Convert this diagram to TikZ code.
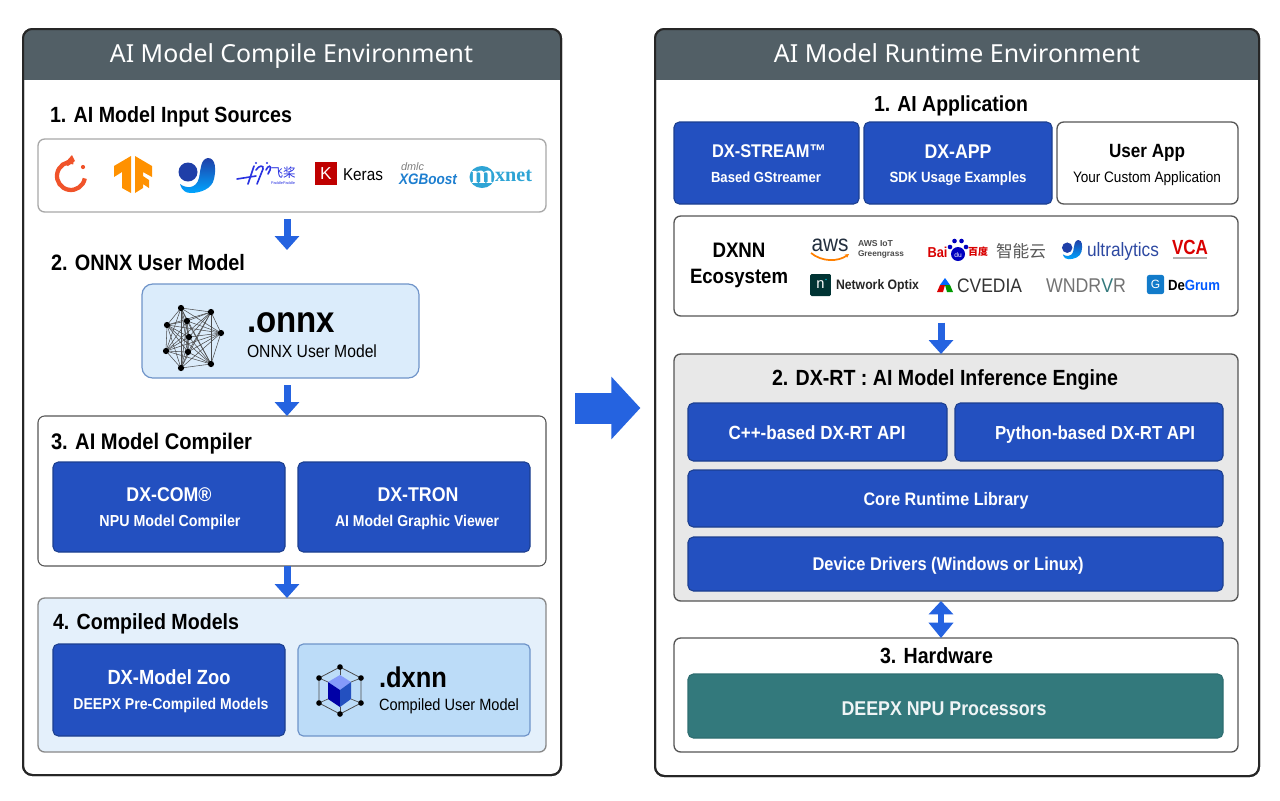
\documentclass[tikz,border=0pt]{standalone}
\usepackage{fontspec}
\setmainfont{Liberation Sans}
\newfontfamily\ttl{Noto Sans}
\newfontfamily\ser{Liberation Serif}
\newfontfamily\cjk{Noto Sans CJK SC}
\usetikzlibrary{fit,arrows.meta}
\definecolor{hdr}{HTML}{525F66}
\definecolor{blu}{HTML}{2350C0}
\definecolor{bludk}{HTML}{1C3F8F}
\definecolor{arr}{HTML}{2563E0}
\definecolor{lt}{HTML}{DBECFB}
\definecolor{ltb}{HTML}{6F94C9}
\definecolor{lt2}{HTML}{BCDCF8}
\definecolor{lt3}{HTML}{E4F0FB}
\definecolor{teal}{HTML}{33797C}
\definecolor{gry}{HTML}{A8A8A8}
\definecolor{gry2}{HTML}{555555}
\definecolor{mxc}{HTML}{2EA4D5}
\definecolor{xgc}{HTML}{1E7FD0}
\definecolor{ppc}{HTML}{2932E1}
\definecolor{awsc}{HTML}{232F3E}
\definecolor{orng}{HTML}{F0532A}
\definecolor{tfc}{HTML}{FF9100}
\definecolor{ulc}{HTML}{1F3FA8}
\newcommand{\ffit}[2]{\resizebox{\dimexpr#1pt*3/4\relax}{!}{\rule{0pt}{7.2pt}\smash{#2}}}
\newcommand{\fit}[2]{\scalebox{1}[1.12]{\ffit{#1}{#2}}}
\newcommand{\ulogo}{%
 \fill[ulc] (0,0) circle (9.5);
 \path[top color=ulc,bottom color=cyan!65!blue]
  (11,6) .. controls (13,-5) and (13,-13) .. (20,-14) .. controls (28,-14) and (28,-2) .. (26,7) .. controls (24,17) and (12,21) .. (3,21) .. controls (-2,21) and (-6,19) .. (-8,12) .. controls (-3,16) and (8,18) .. (11,6) -- cycle;
}
\tikzset{
 x=0.75pt,y=-0.75pt,
 txt/.style={inner sep=0pt,outer sep=0pt,text=black},
 wht/.style={txt,text=white},
 panelbox/.style={draw=black!85,line width=1.5pt,rounded corners=7pt,fill=white,inner sep=0pt,outer sep=0pt},
 box/.style={draw=gry,line width=1pt,rounded corners=5pt,fill=white,inner sep=0pt,outer sep=0pt},
 boxdk/.style={box,draw=gry2,line width=0.8pt},
 blubox/.style={draw=bludk,line width=0.8pt,rounded corners=4pt,fill=blu,inner sep=0pt,outer sep=0pt},
 ltbox/.style={draw=ltb,line width=0.9pt,rounded corners=8pt,fill=lt,inner sep=0pt,outer sep=0pt},
 flow/.style={draw=arr,line width=5.25pt,-{Triangle[width=18pt,length=10.5pt]}},
 flowtwo/.style={draw=arr,line width=4.5pt,{Triangle[width=18pt,length=10pt]}-{Triangle[width=18pt,length=11.5pt]}},
 bigflow/.style={draw=arr,line width=23.25pt,-{Triangle[width=45.75pt,length=21.75pt]}},
 ppline/.style={draw=ppc,line width=1.2pt,line cap=round},
}
\begin{document}
\begin{tikzpicture}
\useasboundingbox (0,0) rectangle (1280,800);
\fill[white] (0,0) rectangle (1280,800);
% left panel
\node[panelbox,fit={(23,29) (561,775)}] (lp) {};
\fill[hdr,rounded corners=7pt] (23,29) rectangle (561,70);
\fill[hdr] (23,50) rectangle (561,80);
\draw[black!85,line width=1.5pt,rounded corners=7pt] (23,29) rectangle (561,775);
\node[txt,text=white] (lt) at (291.5,54) {\ffit{363}{\ttl AI Model Compile Environment}};
\node[txt,anchor=west] (h1) at (50,115) {\fit{242}{\bfseries 1. AI Model Input Sources}};
\node[box,fit={(38,139) (546,212)}] (src) {};
% pytorch
\draw[draw=orng,line width=3.2pt] (73.4,162.2) arc[start angle=-80,end angle=-350,radius=14];
\fill[orng] (72,155) -- (75,161) -- (68,166) -- (64,164) -- cycle;
\fill[orng] (83,167) circle (2.1);
% tensorflow
\fill[tfc] (114,166) -- (131,156) -- (131,193) -- (122,188) -- (122,172) -- (114,177) -- cycle;
\fill[tfc] (135,156) -- (152,166) -- (152,177) -- (143,172) -- (143,176) -- (149,180) -- (149,188) -- (143,184) -- (143,188) -- (135,193) -- cycle;
% blue logo
\begin{scope}[shift={(188,172)}]\ulogo\end{scope}
% paddle
\draw[ppline] (237,179) -- (256,176);
\draw[ppline] (254,166) -- (248,184);
\draw[ppline] (256,170) .. controls (259,165) and (264,165) .. (263,169) -- (257,184);
\draw[ppline] (266,170) .. controls (268,165) and (272,165) .. (270,170) -- (268,174);
\fill[ppc] (256,163) circle (1.2) (267,163) circle (1.2);
\node[txt,text=ppc] (fj) at (283,173) {\ffit{25}{\cjk 飞桨}};
\node[txt,text=ppc] (ppt) at (283,183) {\ffit{24}{PaddlePaddle}};
% keras
\node[fill=red!75!black,minimum width=16.5pt,minimum height=17pt,inner sep=0pt,text=white] (kk) at (326,173.5) {\fontsize{13}{14}\selectfont K};
\node[txt,anchor=west] (keras) at (343,174) {\fit{40}{Keras}};
% xgboost
\node[txt,anchor=west,text=gray] (dmlc) at (401,167) {\ffit{23}{\itshape dmlc}};
\node[txt,anchor=west,text=xgc] (xgb) at (399,179) {\fit{58}{\bfseries\itshape XGBoost}};
% mxnet
\fill[mxc] (482,177) ellipse (12.5 and 11);
\node[txt,text=white] (mm) at (482,174) {\ffit{22}{\ser\bfseries m}};
\node[txt,anchor=west,text=mxc] (xnet) at (495,174.5) {\ffit{37}{\ser\bfseries xnet}};
\draw[flow] ([yshift=-5.25pt]src.south -| 287,0) -- (287,250);
\node[txt,anchor=west] (h2) at (51,262) {\fit{194}{\bfseries 2. ONNX User Model}};
\node[ltbox,fit={(142,284) (419,378)}] (onnx) {};
\foreach \i/\ax/\ay in {0/181/308,1/211/312,2/221/333,3/211/364,4/181/368,5/166/351,6/167/325,7/187/321,8/189/337,9/188/352}{
 \coordinate (n\i) at (\ax,\ay);
}
\foreach \i in {0,...,9}{\foreach \j in {0,...,9}{\ifnum\i<\j\draw[black!70,line width=0.4pt] (n\i) -- (n\j);\fi}}
\foreach \i in {0,...,9}{\fill[black] (n\i) circle (3.1);}
\node[txt,anchor=west] (ox) at (247,319) {\fit{88}{\bfseries .onnx}};
\node[txt,anchor=west] (oxs) at (247,351) {\fit{130}{ONNX User Model}};
\node[boxdk,fit={(38,416) (546,566)}] (b3) {};
\draw[flow] ([yshift=-5.25pt]onnx.south -| 287,0) -- (b3.north -| 287,0);
\node[txt,anchor=west] (h3) at (51,441) {\fit{201}{\bfseries 3. AI Model Compiler}};
\node[blubox,fit={(53,462) (285,552)}] (com) {};
\node[blubox,fit={(298,462) (530,552)}] (tron) {};
\node[wht] (comt) at (169,494) {\fit{85}{\bfseries DX-COM®}};
\node[wht] (coms) at (170,521) {\fit{141}{\bfseries NPU Model Compiler}};
\node[wht] (trt) at (418,494) {\fit{81}{\bfseries DX-TRON}};
\node[wht] (trs) at (417,521) {\fit{164}{\bfseries AI Model Graphic Viewer}};
\node[box,fill=lt3,draw=gry2!70,fit={(38,598) (546,752)}] (b4) {};
\draw[flow] (b3.south -| 287,0) -- (b4.north -| 287,0);
\node[txt,anchor=west] (h4) at (53,622) {\fit{186}{\bfseries 4. Compiled Models}};
\node[blubox,fit={(53,644) (285,736)}] (zoo) {};
\node[ltbox,fill=lt2,rounded corners=4pt,fit={(298,644) (530,736)}] (dx) {};
\node[wht] (zt) at (169,677) {\fit{123}{\bfseries DX-Model Zoo}};
\node[wht] (zs) at (171,704) {\fit{195}{\bfseries DEEPX Pre-Compiled Models}};
% dxnn icon
\draw[black!70,line width=0.6pt] (340,667) -- (361,678) -- (361,703) -- (340,714) -- (319,703) -- (319,678) -- cycle;
\fill[blue!30!lt2] (340,675) -- (351,682) -- (340,690) -- (328,682) -- cycle;
\fill[blue!65!black] (328,682) -- (340,690) -- (340,707) -- (328,699) -- cycle;
\fill[blu] (351,682) -- (340,690) -- (340,707) -- (351,699) -- cycle;
\foreach \ax/\ay/\bx/\by in {340/667/340/675,361/678/351/682,361/703/351/699,340/714/340/707,319/703/328/699,319/678/328/682}{
 \draw[black!70,line width=0.5pt] (\ax,\ay) -- (\bx,\by);
 \fill[black] (\ax,\ay) circle (2.8);
}
\node[txt,anchor=west] (dxt) at (379,677) {\fit{68}{\bfseries .dxnn}};
\node[txt,anchor=west] (dxs) at (379,705) {\fit{140}{Compiled User Model}};
% right panel
\node[panelbox,fit={(655,29) (1259,776)}] (rp) {};
\fill[hdr,rounded corners=7pt] (655,29) rectangle (1259,70);
\fill[hdr] (655,50) rectangle (1259,80);
\draw[black!85,line width=1.5pt,rounded corners=7pt] (655,29) rectangle (1259,776);
\node[txt,text=white] (rt) at (957,54) {\ffit{366}{\ttl AI Model Runtime Environment}};
\coordinate (by) at (0,408);
\draw[bigflow,shorten <=10.5pt,shorten >=11pt] (lp.east |- by) -- (rp.west |- by);
\node[txt] (ra) at (951,104) {\fit{154}{\bfseries 1. AI Application}};
\node[blubox,fit={(674,122) (859,204)}] (st) {};
\node[blubox,fit={(864,122) (1052,204)}] (app) {};
\node[box,draw=gry2,fit={(1057,122) (1238,204)}] (user) {};
\node[wht] (stt) at (769,151) {\fit{114}{\bfseries DX-STREAM™}};
\node[wht] (sts) at (766,177) {\fit{110}{\bfseries Based GStreamer}};
\node[wht] (appt) at (958,151) {\fit{67}{\bfseries DX-APP}};
\node[wht] (apps) at (958,177) {\fit{137}{\bfseries SDK Usage Examples}};
\node[txt] (ut) at (1147,151) {\fit{76}{\bfseries User App}};
\node[txt] (us) at (1147,177) {\fit{148}{Your Custom Application}};
\node[box,draw=gry2,fit={(674,216) (1238,316)}] (eco) {};
\node[txt] (e1) at (739,250) {\fit{53}{\bfseries DXNN}};
\node[txt] (e2) at (739,276) {\fit{98}{\bfseries Ecosystem}};
% aws
\node[txt,text=awsc] (aws) at (830,243.5) {\fit{37}{aws}};
\draw[orange,line width=1.3pt,-{Stealth[length=3pt,width=3pt]}] (811,253) .. controls (822,262) and (838,262) .. (849,254);
\node[txt,anchor=west,text=black!70] (aw1) at (858,243) {\ffit{35}{\bfseries AWS IoT}};
\node[txt,anchor=west,text=black!70] (aw2) at (858,254) {\ffit{46}{\bfseries Greengrass}};
% baidu
\node[txt,text=red!85!black] (bai) at (937.5,252) {\fit{20}{\bfseries Bai}};
\fill[blue!75!black] (958,254) circle (7);
\foreach \ax/\ay in {950/247,954.5/241,961.5/241,966/247}{\fill[blue!75!black] (\ax,\ay) circle (2.3);}
\node[wht] (du) at (958,255) {\fontsize{5}{5}\selectfont du};
\node[txt,text=red!85!black] (bd) at (978,252) {\ffit{20}{\cjk\bfseries 百度}};
\node[txt,text=black!65] (zn) at (1021,251) {\ffit{50}{\cjk 智能云}};
\begin{scope}[shift={(1067.2,247.7)},scale=0.55]\ulogo\end{scope}
\node[txt,anchor=west,text=ulc!85!gray] (ul) at (1087,250) {\fit{72}{ultralytics}};
\node[txt,text=red!85!black] (vca) at (1190,247) {\scalebox{1}[1.2]{\ffit{36}{\bfseries VCA}}};
\draw[black!30,line width=1pt] (1173,258) -- (1207,258);
% row 2
\node[fill=black!75!blue!80!green,rounded corners=1pt,minimum width=15.5pt,minimum height=16.5pt,inner sep=0pt,text=white] (nsq) at (820.5,285) {\fontsize{11}{12}\selectfont n};
\fill[cyan!70!green] (826,279.5) circle (0.9);
\node[txt,anchor=west,text=black!85] (nop) at (836,285) {\fit{83}{\bfseries Network Optix}};
\fill[blue!60!cyan] (945,278) -- (950,285) -- (940,285) -- cycle;
\fill[red!85!black] (940,285) -- (945,285) -- (943,292) -- (937,292) -- cycle;
\fill[green!60!black] (950,285) -- (945,285) -- (947,292) -- (953,292) -- cycle;
\node[txt,anchor=west,text=black!80] (cv) at (957,285) {\fit{65}{CVEDIA}};
\node[txt,anchor=west,text=black!55] (wn) at (1046,285) {\fit{80}{WNDR\textcolor{teal}{V}R}};
\node[fill=cyan!60!blue,rounded corners=2pt,minimum width=13pt,minimum height=14.5pt,inner sep=0pt,text=white] (gsq) at (1155.5,284.5) {\fontsize{9}{10}\selectfont G};
\node[txt,anchor=west] (dg) at (1168,285) {\fit{52}{\bfseries De\textcolor{blue!65!cyan}{Grum}}};
% DX-RT
\node[box,draw=gry2,fill=black!9,fit={(674,354) (1238,601)}] (rtb) {};
\draw[flow,shorten <=5pt] (eco.south -| 941,0) -- (rtb.north -| 941,0);
\node[txt] (rh) at (945,378) {\fit{346}{\bfseries 2. DX-RT : AI Model Inference Engine}};
\node[blubox,fit={(688,403) (947,461)}] (cpp) {};
\node[blubox,fit={(955,403) (1223,461)}] (py) {};
\node[blubox,fit={(688,470) (1223,527)}] (core) {};
\node[blubox,fit={(688,537) (1223,591)}] (drv) {};
\node[wht] (cppt) at (817,433) {\fit{177}{\bfseries C++-based DX-RT API}};
\node[wht] (pyt) at (1095,433) {\fit{200}{\bfseries Python-based DX-RT API}};
\node[wht] (coret) at (946,499) {\fit{165}{\bfseries Core Runtime Library}};
\node[wht] (drvt) at (948,564) {\fit{271}{\bfseries Device Drivers (Windows or Linux)}};
\node[box,draw=gry2,fit={(674,638) (1238,752)}] (hw) {};
\draw[flowtwo] (rtb.south -| 941,0) -- (hw.north -| 941,0);
\node[txt] (hwt) at (936.5,656) {\fit{113}{\bfseries 3. Hardware}};
\node[blubox,fill=teal,draw=teal!90!black,fit={(688,674) (1223,738)}] (npu) {};
\node[txt,text=white!92!teal] (npt) at (944,708) {\fit{205}{\bfseries DEEPX NPU Processors}};
\end{tikzpicture}
\end{document}
